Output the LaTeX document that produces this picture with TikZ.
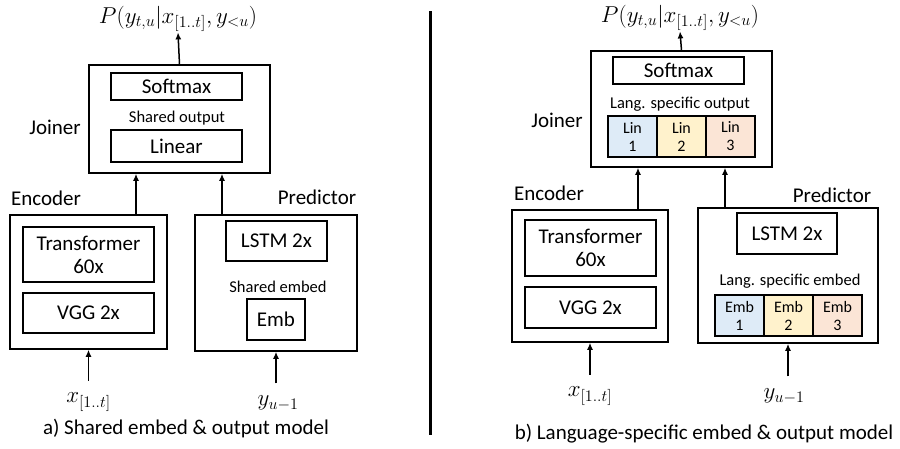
\RequirePackage{fix-cm}
\documentclass[tikz,border=0pt]{standalone}
\usepackage{fontspec}
\setmainfont{Carlito}
\usetikzlibrary{arrows.meta,calc}
\definecolor{langone}{HTML}{DEEBF7}
\definecolor{langtwo}{HTML}{FFF2CC}
\definecolor{langthree}{HTML}{FBE5D6}

\begin{document}
\begin{tikzpicture}[x=1pt,y=-1pt,
    blk/.style={draw, line width=1.5pt, inner sep=0pt, align=center,
        font=\fontsize{21}{23}\selectfont},
    sblk/.style={blk, font=\fontsize{16}{18}\selectfont},
    lbl/.style={inner sep=0pt, font=\fontsize{21}{24}\selectfont},
    note/.style={inner sep=0pt, font=\fontsize{16.5}{19}\selectfont},
    mlbl/.style={inner sep=0pt, font=\fontsize{23}{26}\selectfont},
    arr/.style={line width=1.5pt, -{Latex[length=7pt,width=6pt]}}]
    \useasboundingbox (0,0) rectangle (900,448);

    % a) shared embed & output
    \begin{scope}
        \node[blk, minimum width=181, minimum height=108] (joinerA) at (179.5,119) {};
        \node[blk, minimum width=131, minimum height=27] (softA) at (176.5,86.5) {Softmax};
        \node[note] (sharedoutA) at (177,118) {Shared output};
        \node[blk, minimum width=131, minimum height=32] (linA) at (176.5,146) {Linear};
        \node[lbl] (joinerlabA) at (55,127) {Joiner};
        \node[mlbl] (PA) at (178,18.5) {$P(y_{t,u}|x_{[1..t]},y_{<u})$};

        \node[blk, minimum width=157, minimum height=134] (encA) at (88.5,282) {};
        \node[blk, minimum width=131, minimum height=55] (trA) at (88.5,254.5) {Transformer\\60x};
        \node[blk, minimum width=131, minimum height=40] (vggA) at (88.5,313) {VGG 2x};
        \node[lbl] (enclabA) at (46,198) {Encoder};

        \node[blk, minimum width=162, minimum height=136] (predA) at (276,283) {};
        \node[blk, minimum width=101, minimum height=40] (lstmA) at (276.5,241) {LSTM 2x};
        \node[note] (sharedembA) at (278,287) {Shared embed};
        \node[blk, minimum width=58, minimum height=41] (embA) at (276,319.5) {Emb};
        \node[lbl] (predlabA) at (317,197) {Predictor};

        \node[mlbl] (xA) at (88.5,402) {$x_{[1..t]}$};
        \node[mlbl] (yA) at (278,403) {$y_{u-1}$};
        \node[lbl] (capA) at (186,429) {a) Shared embed \& output model};

        \coordinate (jA1) at ($(joinerA.south)+(-43.5,0)$);
        \coordinate (jA2) at ($(joinerA.south)+(42.5,0)$);
        \draw[arr] (joinerA.north) -- ([yshift=-1pt]PA.south);
        \draw[arr] (encA.north -| jA1) -- (jA1);
        \draw[arr] (predA.north -| jA2) -- (jA2);
        \draw[arr] ([yshift=12pt]xA.north -| encA.south) -- (encA.south);
        \draw[arr] ([yshift=12pt]yA.north -| predA.south) -- (predA.south);
    \end{scope}

    % divider
    \coordinate (divtop) at (430,11);
    \coordinate (divbot) at (430,435);
    \draw[line width=3pt] (divtop) -- (divbot);

    % b) language-specific embed & output
    \begin{scope}
        \node[blk, minimum width=181, minimum height=116] (joinerB) at (681.5,109) {};
        \node[blk, minimum width=131, minimum height=27] (softB) at (678.5,70.5) {Softmax};
        \node[note] (langoutB) at (680,104) {Lang. specific output};
        \node[sblk, fill=langone, minimum width=49, minimum height=41] (lin1) at (632.5,136.5) {Lin\\1};
        \node[sblk, fill=langtwo, minimum width=49, minimum height=41] (lin2) at (681.5,136.5) {Lin\\2};
        \node[sblk, fill=langthree, minimum width=49, minimum height=41] (lin3) at (730.5,136.5) {Lin\\3};
        \node[lbl] (joinerlabB) at (557,120) {Joiner};
        \node[mlbl] (PB) at (680,17.5) {$P(y_{t,u}|x_{[1..t]},y_{<u})$};

        \node[blk, minimum width=156, minimum height=132] (encB) at (590,276) {};
        \node[blk, minimum width=131, minimum height=56] (trB) at (590.5,248) {Transformer\\60x};
        \node[blk, minimum width=131, minimum height=41] (vggB) at (590.5,307.5) {VGG 2x};
        \node[lbl] (enclabB) at (549,193) {Encoder};

        \node[blk, minimum width=180, minimum height=135] (predB) at (788,275.5) {};
        \node[blk, minimum width=100, minimum height=41] (lstmB) at (787,233.5) {LSTM 2x};
        \node[note] (langembB) at (790,281) {Lang. specific embed};
        \node[sblk, fill=langone, minimum width=49, minimum height=41] (emb1) at (739.5,315.5) {Emb\\1};
        \node[sblk, fill=langtwo, minimum width=49, minimum height=41] (emb2) at (788.5,315.5) {Emb\\2};
        \node[sblk, fill=langthree, minimum width=49, minimum height=41] (emb3) at (837.5,315.5) {Emb\\3};
        \node[lbl] (predlabB) at (832,195) {Predictor};

        \node[mlbl] (xB) at (590,396) {$x_{[1..t]}$};
        \node[mlbl] (yB) at (784,396) {$y_{u-1}$};
        \node[lbl] (capB) at (704,434) {b) Language-specific embed \& output model};

        \coordinate (jB1) at ($(joinerB.south)+(-43.5,0)$);
        \coordinate (jB2) at ($(joinerB.south)+(43.5,0)$);
        \draw[arr] (joinerB.north) -- ([yshift=-1pt]PB.south);
        \draw[arr] (encB.north -| jB1) -- (jB1);
        \draw[arr] (predB.north -| jB2) -- (jB2);
        \draw[arr] ([yshift=12pt]xB.north -| encB.south) -- (encB.south);
        \draw[arr] ([yshift=12pt]yB.north -| predB.south) -- (predB.south);
    \end{scope}
\end{tikzpicture}
\end{document}
